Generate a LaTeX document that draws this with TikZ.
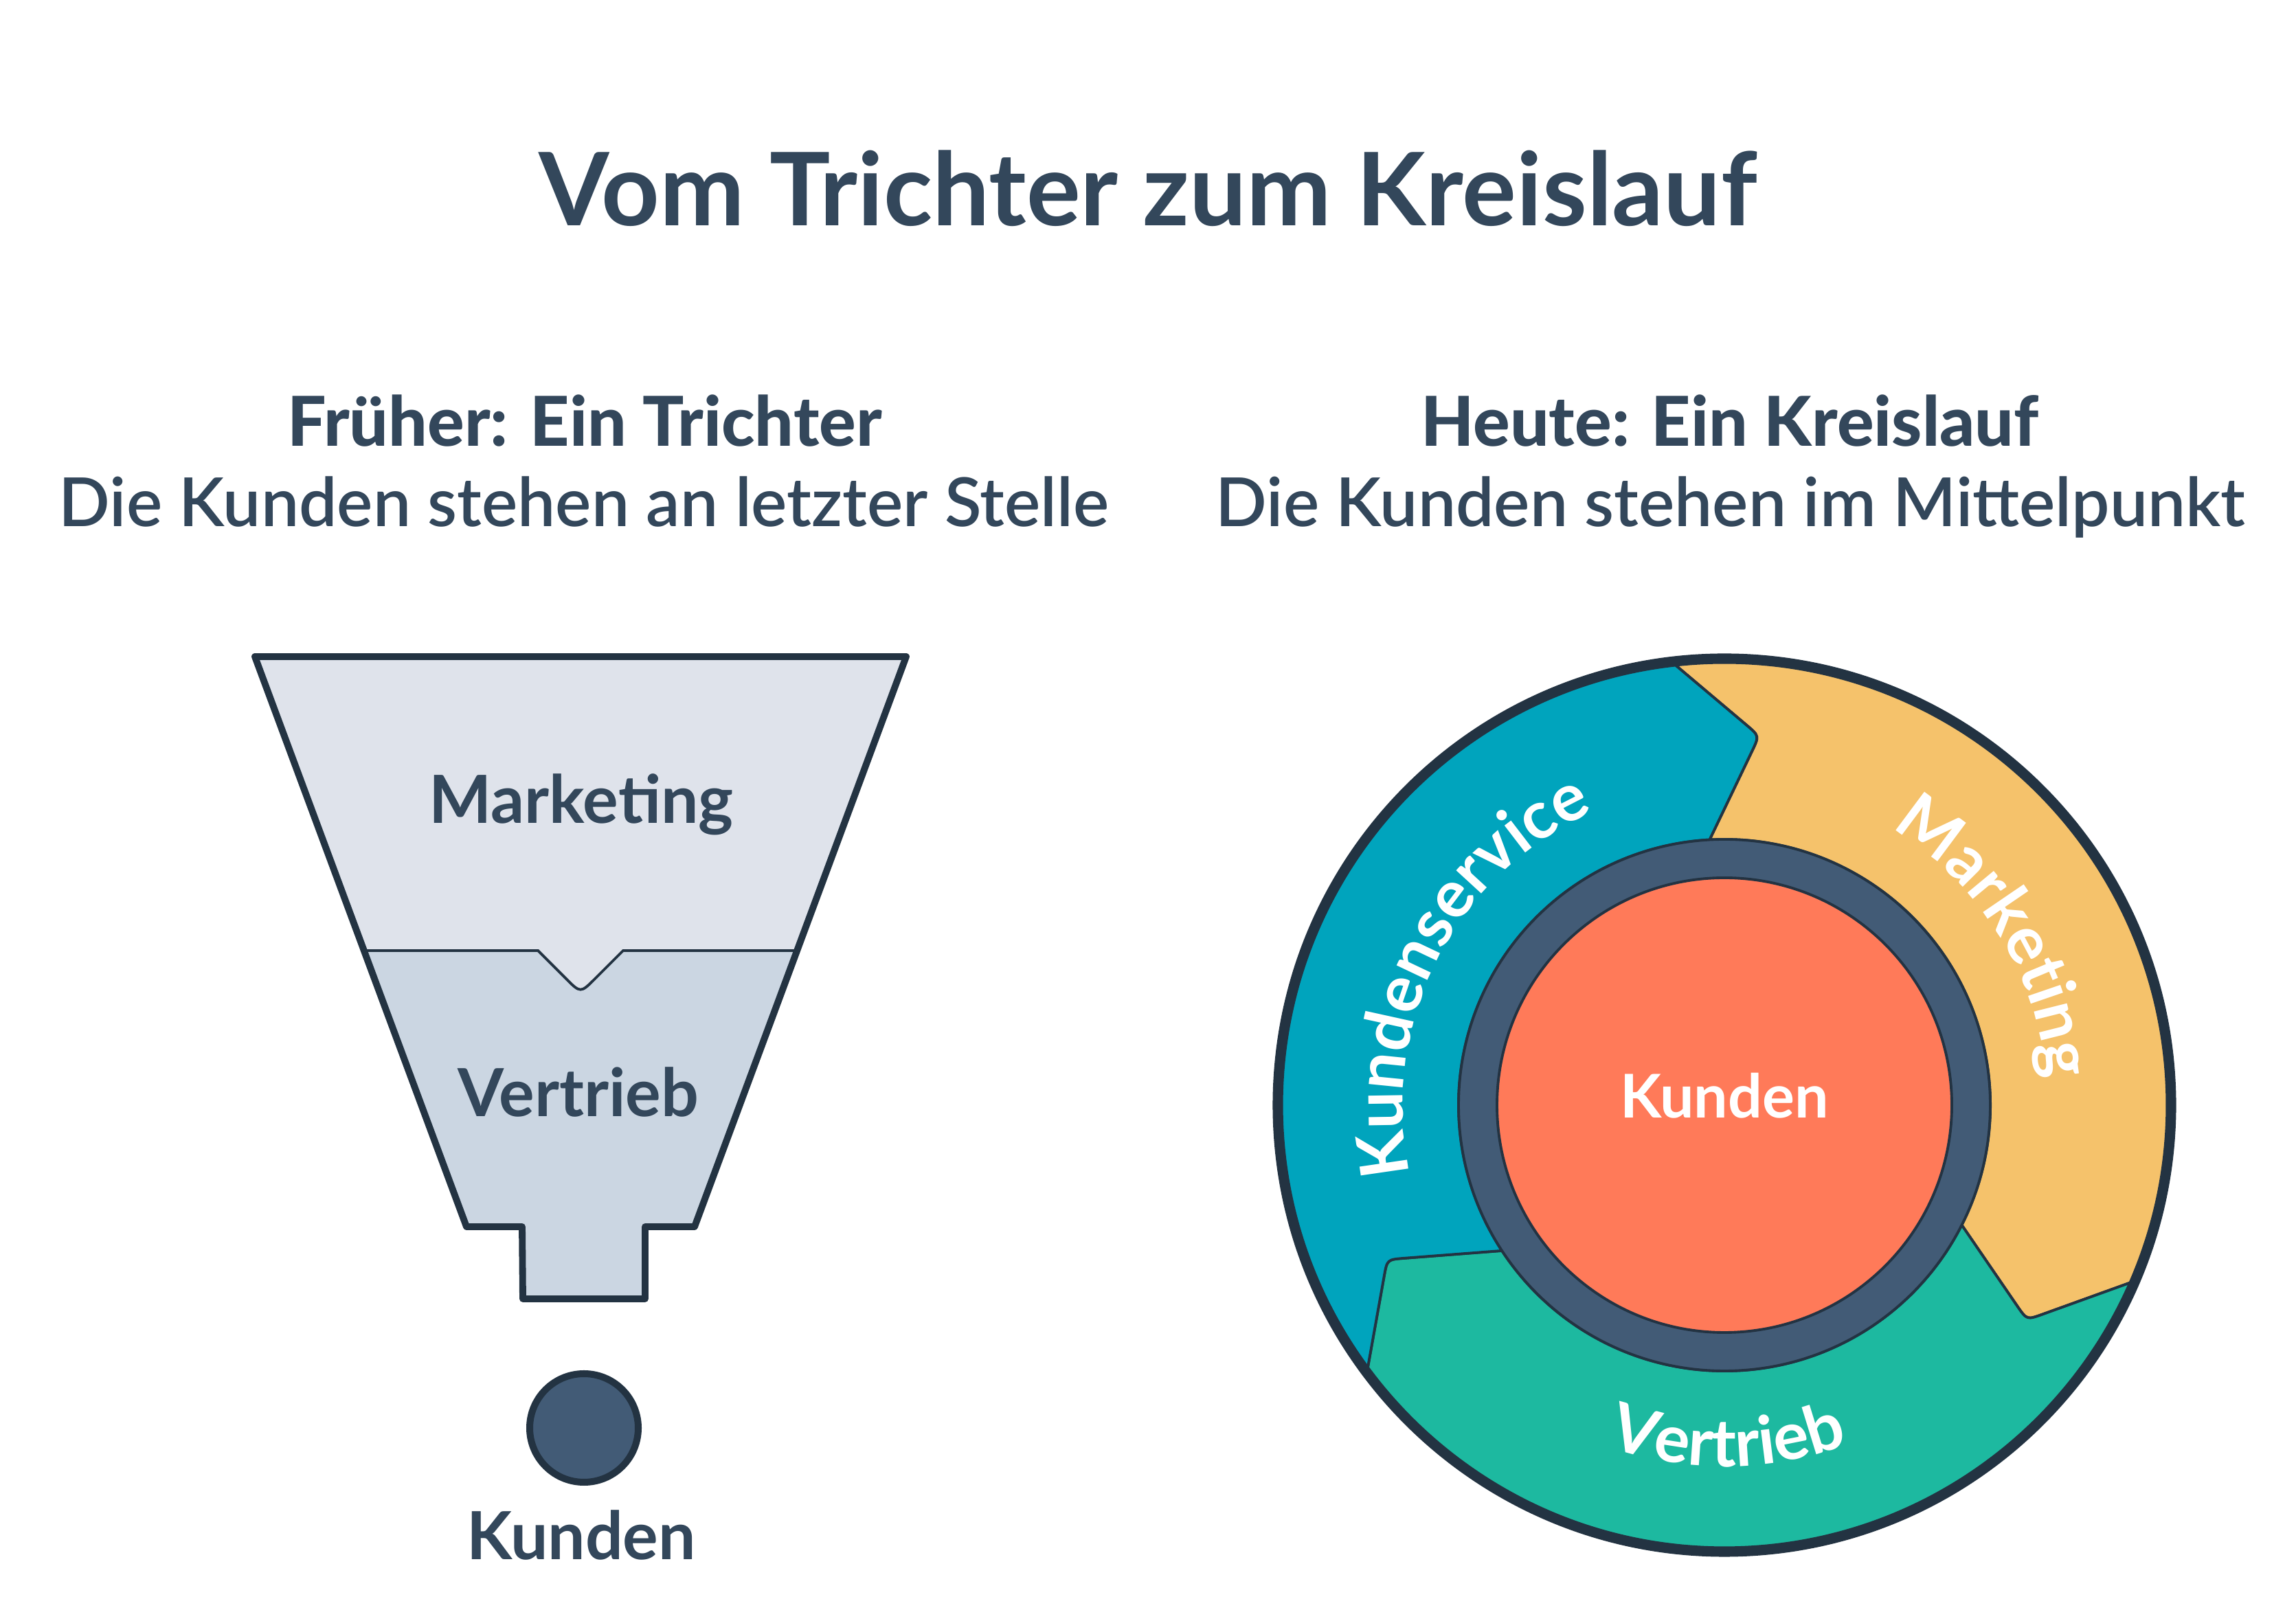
\documentclass[tikz,border=0pt]{standalone}
\usepackage{fontspec}
\setmainfont{Lato}
\newfontfamily\demifont{Lato Semibold}
\newfontfamily\boldfont{Lato Bold}
\newfontfamily\heavyfont{Lato Heavy}
\usetikzlibrary{calc,decorations.text}

\definecolor{txtdark}{HTML}{33475B}
\definecolor{outline}{HTML}{233342}
\definecolor{funneltop}{HTML}{DFE3EB}
\definecolor{funnelbot}{HTML}{CBD6E2}
\definecolor{slate}{HTML}{425B76}
\definecolor{flyteal}{HTML}{00A4BD}
\definecolor{flyyellow}{HTML}{F5C26B}
\definecolor{flygreen}{HTML}{1DB9A0}
\definecolor{flycoral}{HTML}{FF7A59}

\newcommand\titlefont{\boldfont\fontsize{42}{50}\selectfont}
\newcommand\subbold{\heavyfont\fontsize{28.5}{34}\selectfont}
\newcommand\submed{\demifont\fontsize{28}{34}\selectfont}
\newcommand\lblfont{\boldfont\fontsize{27.5}{33}\selectfont}
\newcommand\corefont{\boldfont\fontsize{25}{30}\selectfont}

\tikzset{
  headline/.style={text=txtdark, anchor=base, inner sep=0pt},
  kdot/.style={circle, fill=slate, draw=outline, line width=2.85pt, minimum size=1.58cm, inner sep=0pt},
  flylabel/.style={decorate, decoration={text along path, text align=center, text color=white, #1}}
}

\begin{document}
\begin{tikzpicture}
    \useasboundingbox (0,0) rectangle (33.42,23.44);

    %Headings
    \node[headline, font=\titlefont] (title) at (16.71,20.15) {Vom Trichter zum Kreislauf};
    \node[headline, font=\subbold] (oldhead) at (8.51,16.94) {Früher: Ein Trichter};
    \node[headline, font=\submed] (oldsub) at (8.50,15.77) {Die Kunden stehen an letzter Stelle};
    \node[headline, font=\subbold] (newhead) at (25.18,16.94) {Heute: Ein Kreislauf};
    \node[headline, font=\submed] (newsub) at (25.19,15.77) {Die Kunden stehen im Mittelpunkt};

    %Funnel
    \coordinate (ftl) at (3.71,13.88);
    \coordinate (ftr) at (13.19,13.88);
    \coordinate (fdl) at (5.30,9.60);
    \coordinate (fdr) at (11.60,9.60);
    \coordinate (fn1) at (7.83,9.60);
    \coordinate (fnt) at (8.45,8.98);
    \coordinate (fn2) at (9.07,9.60);
    \coordinate (fbl) at (6.79,5.58);
    \coordinate (fbr) at (10.11,5.58);
    \coordinate (fsl) at (7.60,5.58);
    \coordinate (fsr) at (9.39,5.58);
    \coordinate (fsbl) at (7.61,4.53);
    \coordinate (fsbr) at (9.39,4.53);

    \fill[funneltop] (ftl) -- (ftr) -- (fdr) -- (fn2) -- ($(fnt)!0.3cm!(fn2)$) .. controls (fnt) .. ($(fnt)!0.3cm!(fn1)$) -- (fn1) -- (fdl) -- cycle;
    \fill[funnelbot] (fdl) -- (fn1) -- ($(fnt)!0.3cm!(fn1)$) .. controls (fnt) .. ($(fnt)!0.3cm!(fn2)$) -- (fn2) -- (fdr) -- (fbr) -- (fsr) -- (fsbr) -- (fsbl) -- (fsl) -- (fbl) -- cycle;
    \draw[outline, line width=1.1pt] (fdl) -- (fn1) -- ($(fnt)!0.3cm!(fn1)$) .. controls (fnt) .. ($(fnt)!0.3cm!(fn2)$) -- (fn2) -- (fdr);
    \draw[outline, line width=2.8pt, line join=round] (ftl) -- (ftr) -- (fbr) -- (fsr) -- (fsbr) -- (fsbl) -- (fsl) -- (fbl) -- cycle;

    \node[headline, font=\lblfont] (fmkt) at (8.46,11.45) {Marketing};
    \node[headline, font=\lblfont] (fvtr) at (8.42,7.18) {Vertrieb};

    %Customers at the end
    \node[kdot] (kundendot) at (8.50,2.65) {};
    \node[headline, font=\lblfont] (kunden) at (8.46,0.73) {Kunden};

    %Flywheel segments
    \coordinate (fw) at (25.10,7.35);
    \foreach \a/\col in {93.2/flyyellow, -26.8/flygreen, -146.8/flyteal}{
        \pgfmathsetmacro\b{\a-120}
        \coordinate (r1) at ($(fw)+(\a:3.87)$);
        \coordinate (c1) at ($(fw)+(\a-8.6:5.40)$);
        \coordinate (o1) at ($(fw)+(\a+3.6:6.50)$);
        \coordinate (r2) at ($(fw)+(\b:3.87)$);
        \coordinate (c2) at ($(fw)+(\b-8.6:5.40)$);
        \coordinate (o2) at ($(fw)+(\b+3.6:6.50)$);
        \filldraw[fill=\col, draw=outline, line width=1.1pt, line join=round]
            (r1) -- ($(c1)!0.25cm!(r1)$) .. controls (c1) .. ($(c1)!0.25cm!(o1)$) -- (o1)
            arc[start angle=\a+3.6, end angle=\b+3.6, radius=6.5]
            -- ($(c2)!0.25cm!(o2)$) .. controls (c2) .. ($(c2)!0.25cm!(r2)$) -- (r2)
            arc[start angle=\b, end angle=\a, radius=3.87] -- cycle;
    }

    %Hub
    \filldraw[fill=slate, draw=outline, line width=1.1pt] (fw) circle (3.87);
    \filldraw[fill=flycoral, draw=outline, line width=1.1pt] (fw) circle (3.31);
    \draw[outline, line width=4.3pt] (fw) circle (6.50);
    \node[headline, font=\corefont, text=white] (core) at (25.10,7.16) {Kunden};

    %Curved labels
    \path[flylabel={text={|\lblfont|Kundenservice}}] ($(fw)+(213.2:4.68)$) arc[start angle=213.2, end angle=93.2, radius=4.68];
    \path[flylabel={text={|\lblfont|Marketing}}] ($(fw)+(91.75:4.70)$) arc[start angle=91.75, end angle=-28.25, radius=4.70];
    \path[flylabel={text={|\lblfont|Vertrieb}}] ($(fw)+(-149.4:5.26)$) arc[start angle=-149.4, end angle=-29.4, radius=5.26];

\end{tikzpicture}
\end{document}
